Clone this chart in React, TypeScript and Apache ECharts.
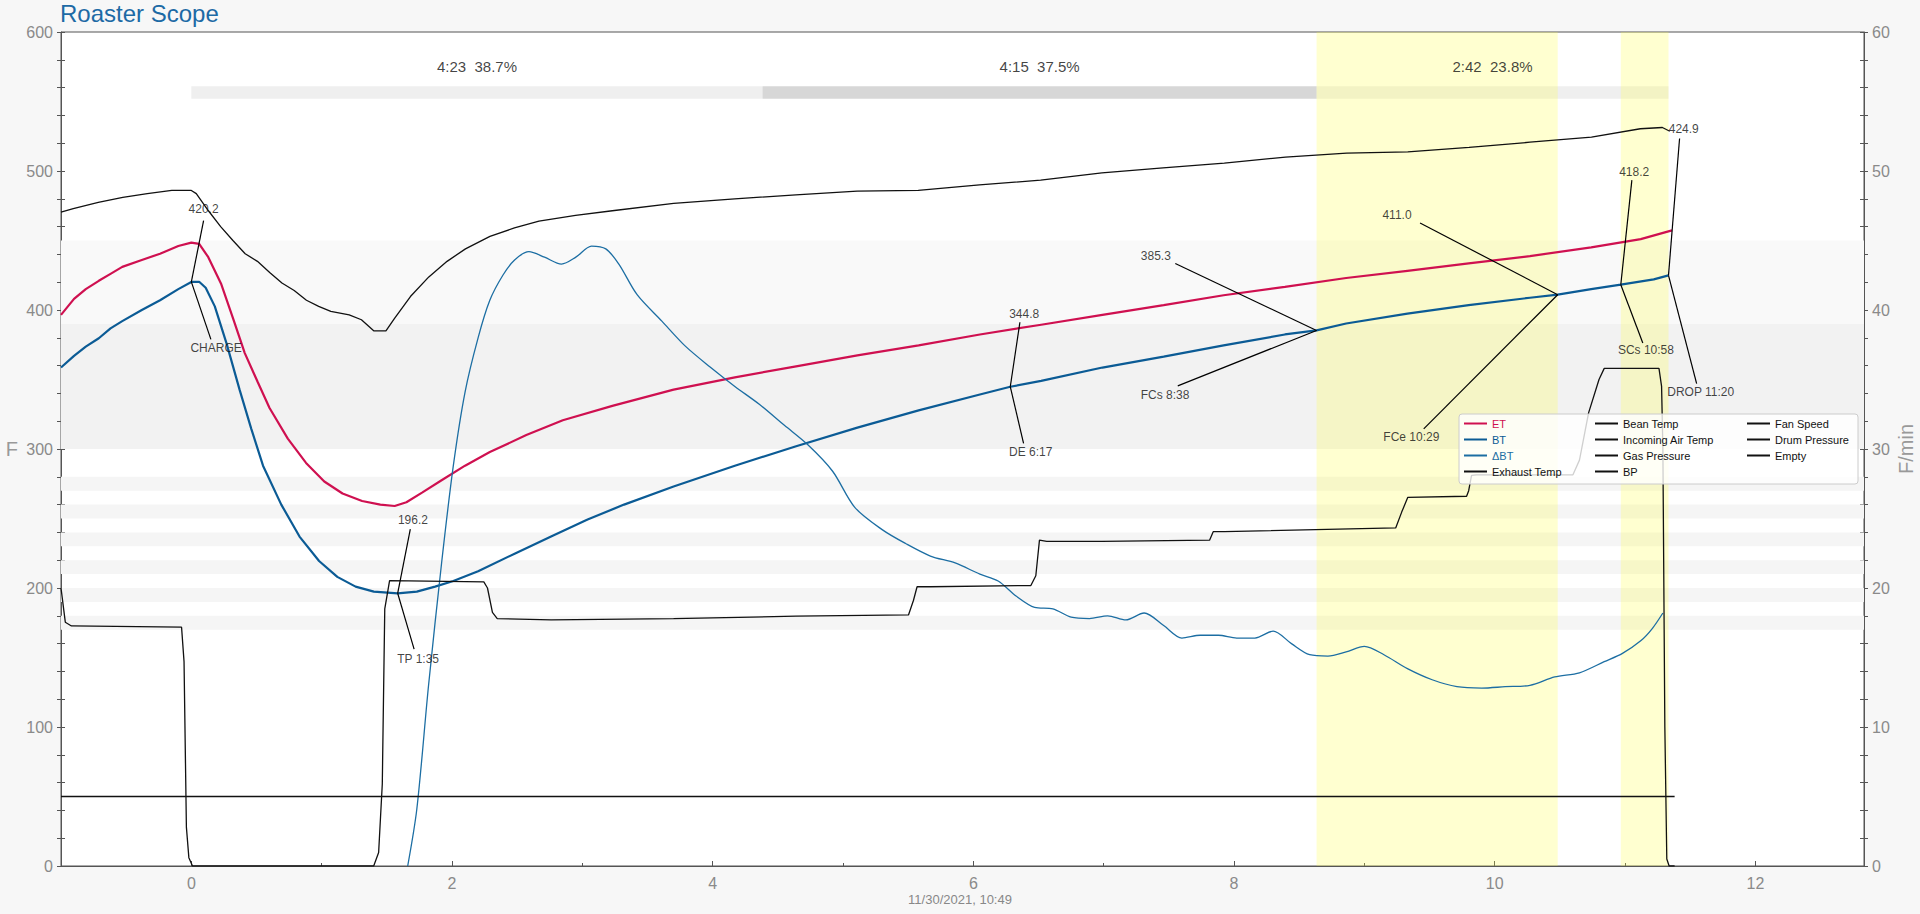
import React, { useEffect, useRef } from "react";
import * as echarts from "echarts";

// ---------- data (time in minutes from CHARGE) ----------
const etTime = [-1.0, -0.9, -0.81, -0.71, -0.62, -0.53, -0.38, -0.24, -0.1, 0, 0.06, 0.13, 0.23, 0.32, 0.41, 0.51, 0.6, 0.74, 0.88, 1.02, 1.16, 1.31, 1.45, 1.56, 1.65, 1.77, 1.92, 2.1, 2.29, 2.57, 2.85, 3.23, 3.7, 4.17, 4.64, 5.11, 5.58, 6.05, 6.52, 6.99, 7.46, 7.92, 8.39, 8.86, 9.33, 9.8, 10.27, 10.74, 11.12, 11.36];
const etValue = [396.5, 408, 415, 421, 426, 431, 436, 440.5, 446, 448.5, 447.6, 438, 418.5, 394, 369, 348, 329.5, 307.5, 290, 276.6, 268, 262.6, 260, 259, 261.7, 268.6, 277.5, 288, 297.8, 310, 320.7, 331, 342.7, 351.5, 359.5, 367.4, 374.5, 382.4, 389.4, 396.5, 403.5, 410.6, 416.7, 423, 428.2, 433.5, 438.8, 445, 451, 457.3];

const btTime = [-1.0, -0.9, -0.81, -0.71, -0.62, -0.53, -0.38, -0.24, -0.1, 0, 0.06, 0.11, 0.18, 0.27, 0.37, 0.46, 0.55, 0.69, 0.83, 0.98, 1.12, 1.26, 1.4, 1.583, 1.73, 1.87, 2.01, 2.2, 2.48, 2.76, 3.04, 3.32, 3.7, 4.17, 4.64, 5.11, 5.58, 6.05, 6.283, 6.52, 6.99, 7.46, 7.92, 8.39, 8.633, 8.86, 9.33, 9.8, 10.27, 10.483, 10.74, 10.967, 11.22, 11.333];
const btValue = [358.6, 367, 373.6, 379.7, 386.8, 392, 400, 407, 415, 420.2, 420.3, 416, 402.6, 376, 342.7, 314.5, 288, 260, 237, 219.4, 208, 201, 197.4, 196.2, 197.4, 201, 205, 212, 224.7, 237, 249.3, 260, 273, 288, 302, 315.4, 327.8, 339.2, 344.8, 349, 358.6, 366.5, 374.5, 382.4, 385.3, 390.3, 397.4, 403.5, 408.8, 411.0, 415, 418.2, 422, 424.9];

const rorTime = [1.66, 1.73, 1.82, 1.92, 2.01, 2.1, 2.2, 2.29, 2.39, 2.48, 2.59, 2.71, 2.84, 2.95, 3.07, 3.18, 3.28, 3.42, 3.61, 3.79, 3.98, 4.17, 4.36, 4.55, 4.73, 4.92, 5.09, 5.3, 5.48, 5.67, 5.86, 6.05, 6.19, 6.33, 6.47, 6.61, 6.75, 6.89, 7.03, 7.17, 7.31, 7.46, 7.6, 7.74, 7.88, 8.02, 8.16, 8.3, 8.44, 8.58, 8.72, 8.86, 9.0, 9.15, 9.33, 9.52, 9.71, 9.9, 10.08, 10.27, 10.46, 10.65, 10.84, 10.98, 11.12, 11.21, 11.29];
const rorValue = [0, 4.1, 13, 21.8, 28.8, 34.1, 38, 40.7, 42.5, 43.6, 44.2, 43.8, 43.3, 43.8, 44.6, 44.4, 43.3, 41.1, 39.2, 37.4, 35.9, 34.5, 33.2, 31.7, 30.3, 28.4, 25.8, 24.2, 23.2, 22.3, 21.8, 21.0, 20.5, 19.4, 18.6, 18.5, 17.9, 17.8, 18.0, 17.7, 18.2, 17.3, 16.4, 16.6, 16.6, 16.4, 16.4, 16.9, 16.0, 15.2, 15.1, 15.4, 15.8, 15.2, 14.2, 13.4, 12.9, 12.8, 12.9, 13.0, 13.6, 13.9, 14.7, 15.3, 16.2, 17.1, 18.2];

const exhaustTime = [-1.0, -0.906, -0.714, -0.526, -0.338, -0.15, 0, 0.038, 0.131, 0.225, 0.319, 0.413, 0.507, 0.601, 0.695, 0.789, 0.883, 0.977, 1.07, 1.211, 1.305, 1.399, 1.493, 1.559, 1.681, 1.822, 1.962, 2.103, 2.291, 2.479, 2.667, 2.948, 3.23, 3.7, 4.169, 4.638, 5.108, 5.577, 6.047, 6.516, 6.986, 7.455, 7.925, 8.394, 8.864, 9.333, 9.803, 10.27, 10.742, 11.117, 11.286, 11.343];
const exhaustValue = [470.5, 473, 477.5, 481, 483.7, 486, 486, 483.7, 471.4, 460, 450, 440.5, 435, 427, 419.4, 414, 407, 402.6, 399, 396.5, 393, 385, 385, 394, 409.7, 423.8, 435, 444, 453, 459, 464, 468, 471.4, 476.7, 480, 482.8, 485.5, 486, 490, 493.4, 498.7, 502.2, 505.7, 510, 512.8, 513.7, 517, 520.7, 524.3, 530.4, 531.3, 528.6];

const fanTime = [-1.0, -0.967, -0.92, -0.075, -0.056, -0.038, -0.019, 0.009, 1.399, 1.437, 1.465, 1.484, 1.521, 2.244, 2.272, 2.31, 2.347, 2.76, 3.7, 4.638, 5.502, 5.54, 5.568, 5.671, 6.441, 6.479, 6.507, 6.563, 6.986, 7.812, 7.84, 7.925, 9.24, 9.286, 9.333, 9.784, 9.8, 9.822, 9.86, 10.6, 10.65, 10.72, 10.8, 10.84, 11.26, 11.28, 11.29, 11.305, 11.32, 11.338, 11.38];
const fanValue = [200, 175.4, 172.7, 171.8, 147, 28, 6, 0, 0, 9.7, 59, 185, 205.3, 204.4, 200, 182.4, 178, 177, 178, 179.7, 180.6, 191, 200.9, 200.9, 201.8, 208.8, 234.4, 233.5, 233.5, 234.4, 240.5, 240.5, 243.2, 254.6, 265.2, 266, 270, 281, 281.4, 281.4, 292, 326, 350, 358, 358, 345, 300, 100, 5, 0, 0];

const drumTime = [-1.0, 11.38];
const drumValue = [50, 50];

// roast events
const eventTime = [0, 1.583, 6.283, 8.633, 10.483, 10.967, 11.333];
const eventValue = [420.2, 196.2, 344.8, 385.3, 411.0, 418.2, 424.9];
const eventUpperText = ["420.2", "196.2", "344.8", "385.3", "411.0", "418.2", "424.9"];
const eventLowerText = ["CHARGE", "TP 1:35", "DE 6:17", "FCs 8:38", "FCe 10:29", "SCs 10:58", "DROP 11:20"];

// phases
const phaseBounds = [0, 4.383, 8.633, 11.333];
const phaseText = ["4:23  38.7%", "4:15  37.5%", "2:42  23.8%"];

// first crack / second crack spans
const crackSpans = [[8.633, 10.483], [10.967, 11.333]];

// tick labels
const xTicks = [0, 2, 4, 6, 8, 10, 12];
const xMinorTicks = [1, 3, 5, 7, 9, 11];

// ---------- layout helpers (annotation placement, data units) ----------
const upperLabelPos = [[0.094, 473], [1.70, 249], [6.39, 397], [7.40, 438.8], [9.25, 468.7], [11.07, 499.6], [11.45, 530.4]];
const upperLineEnd = [[0.094, 464.3], [1.68, 242.3], [6.357, 391.2], [7.549, 433.5], [9.427, 462.6], [11.052, 493.4], [11.418, 523.4]];
const lowerLabelPos = [[0.19, 372.7], [1.74, 149], [6.44, 298], [7.47, 339], [9.36, 308.4], [11.16, 371], [11.58, 341]];
const lowerLineEnd = [[0.15, 378.9], [1.709, 156], [6.385, 304], [7.568, 345.4], [9.455, 314.5], [11.136, 376.2], [11.549, 347.1]];

const pairs = (t: number[], v: number[]) => t.map((x, i) => [x, v[i]]);

const FONT = "'Liberation Sans', Arial, sans-serif";
const ET_COLOR = "#cf1050";
const BT_COLOR = "#0b5b95";
const ROR_COLOR = "#1c6ea3";
const BLACK = "#111111";

export default function App() {
  const ref = useRef<HTMLDivElement>(null);

  useEffect(() => {
    if (!ref.current) return;
    const chart = echarts.init(ref.current, null, { renderer: "svg" });

    const grayBands: any[] = [
      [{ yAxis: 390, itemStyle: { color: "#f9f9f9" } }, { yAxis: 450 }],
      [{ yAxis: 300, itemStyle: { color: "#f2f2f2" } }, { yAxis: 390 }],
    ];
    for (let v = 170; v <= 270; v += 20) {
      grayBands.push([{ yAxis: v, itemStyle: { color: "#f5f5f5" } }, { yAxis: v + 10 }]);
    }

    const phaseBars = phaseText.map((_, i) => [
      { coord: [phaseBounds[i], 552], itemStyle: { color: i === 1 ? "rgba(150,150,150,0.38)" : "rgba(150,150,150,0.15)" } },
      { coord: [phaseBounds[i + 1], 561] },
    ]);

    const yellow = crackSpans.map((s) => [
      { xAxis: s[0], itemStyle: { color: "rgba(255,255,60,0.24)" } },
      { xAxis: s[1] },
    ]);

    const leaders: any[] = [];
    eventTime.forEach((t, i) => {
      leaders.push([{ coord: upperLineEnd[i] }, { coord: [t, eventValue[i]] }]);
      leaders.push([{ coord: [t, eventValue[i]] }, { coord: lowerLineEnd[i] }]);
    });

    const annoData: any[] = [];
    eventTime.forEach((_, i) => {
      annoData.push({ name: eventUpperText[i], value: upperLabelPos[i] });
      annoData.push({ name: eventLowerText[i], value: lowerLabelPos[i] });
    });

    const phaseLabelData = phaseText.map((txt, i) => ({
      name: txt,
      value: [(phaseBounds[i] + phaseBounds[i + 1]) / 2, 575],
    }));

    const blackLine = (name: string, data: number[][]) => ({
      name,
      type: "line",
      data,
      showSymbol: false,
      symbol: "none",
      lineStyle: { color: BLACK, width: 1.3 },
      itemStyle: { color: BLACK },
      z: 2,
    });

    const axisLabelStyle = { color: "#8a8a8a", fontSize: 16, fontFamily: FONT };
    const axisLine = { show: true, onZero: false, lineStyle: { color: "#555", width: 1 } };
    const hiddenLine = { show: false, onZero: false };

    const legendBase = {
      orient: "vertical",
      top: 417,
      padding: 0,
      itemGap: 3,
      itemWidth: 23,
      itemHeight: 2,
      icon: "rect",
      selectedMode: false,
      textStyle: { fontSize: 11, fontFamily: FONT, color: BLACK, lineHeight: 13 },
    };

    const option: any = {
      animation: false,
      backgroundColor: "#f7f7f7",
      textStyle: { fontFamily: FONT },
      title: [
        {
          text: "Roaster Scope",
          left: 60,
          top: 1,
          padding: 0,
          textStyle: { fontSize: 24, fontWeight: "normal", color: "#1d6aa5", fontFamily: FONT },
        },
        {
          text: "11/30/2021, 10:49",
          left: "center",
          top: 893,
          padding: 0,
          textStyle: { fontSize: 13, fontWeight: "normal", color: "#888", fontFamily: FONT },
        },
      ],
      grid: {
        left: 61,
        right: 56,
        top: 32,
        bottom: 48,
        show: true,
        backgroundColor: "#ffffff",
        borderColor: "#555",
        borderWidth: 1,
        containLabel: false,
        outerBoundsMode: "none",
      },
      xAxis: [
        {
          type: "value",
          min: -1,
          max: 12.833,
          axisLine,
          axisTick: { show: true, inside: true, length: 5, customValues: xTicks, lineStyle: { color: "#555" } },
          axisLabel: { ...axisLabelStyle, margin: 9, customValues: xTicks },
          splitLine: { show: false },
        },
        {
          type: "value",
          min: -1,
          max: 12.833,
          position: "bottom",
          axisLine: hiddenLine,
          axisTick: { show: true, inside: true, length: 3, customValues: xMinorTicks, lineStyle: { color: "#555" } },
          axisLabel: { show: false, customValues: xMinorTicks },
          splitLine: { show: false },
        },
      ],
      yAxis: [
        {
          type: "value",
          min: 0,
          max: 600,
          interval: 100,
          position: "left",
          axisLine,
          axisTick: { show: true, inside: true, length: 4, lineStyle: { color: "#555" } },
          minorTick: { show: true, splitNumber: 5, length: 4, lineStyle: { color: "#555" } },
          axisLabel: { ...axisLabelStyle, margin: 8 },
          splitLine: { show: false },
          name: "F",
          nameLocation: "middle",
          nameRotate: 0,
          nameGap: 43,
          nameMoveOverlap: false,
          nameTextStyle: { fontSize: 20, color: "#999", fontFamily: FONT },
        },
        {
          type: "value",
          min: 0,
          max: 60,
          interval: 10,
          position: "right",
          axisLine,
          axisTick: { show: true, inside: true, length: 4, lineStyle: { color: "#555" } },
          minorTick: { show: true, splitNumber: 5, length: 4, lineStyle: { color: "#555" } },
          axisLabel: { ...axisLabelStyle, margin: 8 },
          splitLine: { show: false },
          name: "F/min",
          nameLocation: "middle",
          nameRotate: 90,
          nameGap: 32,
          nameMoveOverlap: false,
          nameTextStyle: { fontSize: 20, color: "#999", fontFamily: FONT },
        },
        {
          type: "value",
          min: 0,
          max: 600,
          interval: 100,
          position: "left",
          axisLine: hiddenLine,
          axisTick: { show: true, inside: false, length: 4, lineStyle: { color: "#555" } },
          minorTick: { show: true, splitNumber: 5, length: 4, lineStyle: { color: "#555" } },
          axisLabel: { show: false },
          splitLine: { show: false },
        },
        {
          type: "value",
          min: 0,
          max: 60,
          interval: 10,
          position: "right",
          axisLine: hiddenLine,
          axisTick: { show: true, inside: false, length: 4, lineStyle: { color: "#555" } },
          minorTick: { show: true, splitNumber: 5, length: 4, lineStyle: { color: "#555" } },
          axisLabel: { show: false },
          splitLine: { show: false },
        },
      ],
      legend: [
        {
          ...legendBase,
          left: 1464,
          data: [
            { name: "ET", textStyle: { color: ET_COLOR } },
            { name: "BT", textStyle: { color: BT_COLOR } },
            { name: "ΔBT", textStyle: { color: ROR_COLOR } },
            { name: "Exhaust Temp" },
          ],
        },
        {
          ...legendBase,
          left: 1595,
          data: ["Bean Temp", "Incoming Air Temp", "Gas Pressure", "BP"],
        },
        {
          ...legendBase,
          left: 1747,
          data: ["Fan Speed", "Drum Pressure", "Empty"],
        },
      ],
      graphic: [
        {
          type: "rect",
          z: 3,
          shape: { x: 1459, y: 414, width: 399, height: 70, r: 3 },
          style: { fill: "rgba(255,255,255,0.8)", stroke: "#cccccc", lineWidth: 1 },
          silent: true,
        },
      ],
      series: [
        {
          name: "_bands",
          type: "line",
          data: [],
          z: 1,
          silent: true,
          markArea: { silent: true, data: grayBands },
        },
        {
          name: "_phases",
          type: "line",
          data: [],
          z: 1,
          silent: true,
          markArea: { silent: true, data: phaseBars },
        },
        {
          name: "_cracks",
          type: "line",
          data: [],
          z: 1,
          silent: true,
          markArea: { silent: true, data: yellow },
        },
        {
          name: "ET",
          type: "line",
          data: pairs(etTime, etValue),
          showSymbol: false,
          symbol: "none",
          lineStyle: { color: ET_COLOR, width: 2.2 },
          itemStyle: { color: ET_COLOR },
          z: 2,
        },
        {
          name: "BT",
          type: "line",
          data: pairs(btTime, btValue),
          showSymbol: false,
          symbol: "none",
          lineStyle: { color: BT_COLOR, width: 2.2 },
          itemStyle: { color: BT_COLOR },
          z: 2,
        },
        {
          name: "ΔBT",
          type: "line",
          yAxisIndex: 1,
          data: pairs(rorTime, rorValue),
          smooth: 0.3,
          showSymbol: false,
          symbol: "none",
          lineStyle: { color: ROR_COLOR, width: 1.3 },
          itemStyle: { color: ROR_COLOR },
          z: 2,
        },
        blackLine("Exhaust Temp", pairs(exhaustTime, exhaustValue)),
        blackLine("Bean Temp", []),
        blackLine("Incoming Air Temp", []),
        blackLine("Gas Pressure", []),
        blackLine("BP", []),
        blackLine("Fan Speed", pairs(fanTime, fanValue)),
        blackLine("Drum Pressure", pairs(drumTime, drumValue)),
        blackLine("Empty", []),
        {
          name: "_annotations",
          type: "scatter",
          data: annoData,
          symbolSize: 1,
          itemStyle: { color: "rgba(0,0,0,0)" },
          silent: true,
          z: 2,
          label: {
            show: true,
            position: "inside",
            formatter: (p: any) => p.name,
            fontSize: 12,
            fontFamily: FONT,
            color: BLACK,
          },
          markLine: {
            silent: true,
            symbol: ["none", "none"],
            label: { show: false },
            lineStyle: { color: "#000", width: 1.2, type: "solid", opacity: 1 },
            data: leaders,
          },
        },
        {
          name: "_phaseLabels",
          type: "scatter",
          data: phaseLabelData,
          symbolSize: 1,
          itemStyle: { color: "rgba(0,0,0,0)" },
          silent: true,
          z: 2,
          label: {
            show: true,
            position: "inside",
            formatter: (p: any) => p.name,
            fontSize: 15,
            fontFamily: FONT,
            color: BLACK,
          },
        },
      ],
    };

    chart.setOption(option);
    return () => chart.dispose();
  }, []);

  return (
    <div
      ref={ref}
      style={{ position: "fixed", left: 0, top: 0, width: "1920px", height: "914px", background: "#f7f7f7" }}
    />
  );
}
